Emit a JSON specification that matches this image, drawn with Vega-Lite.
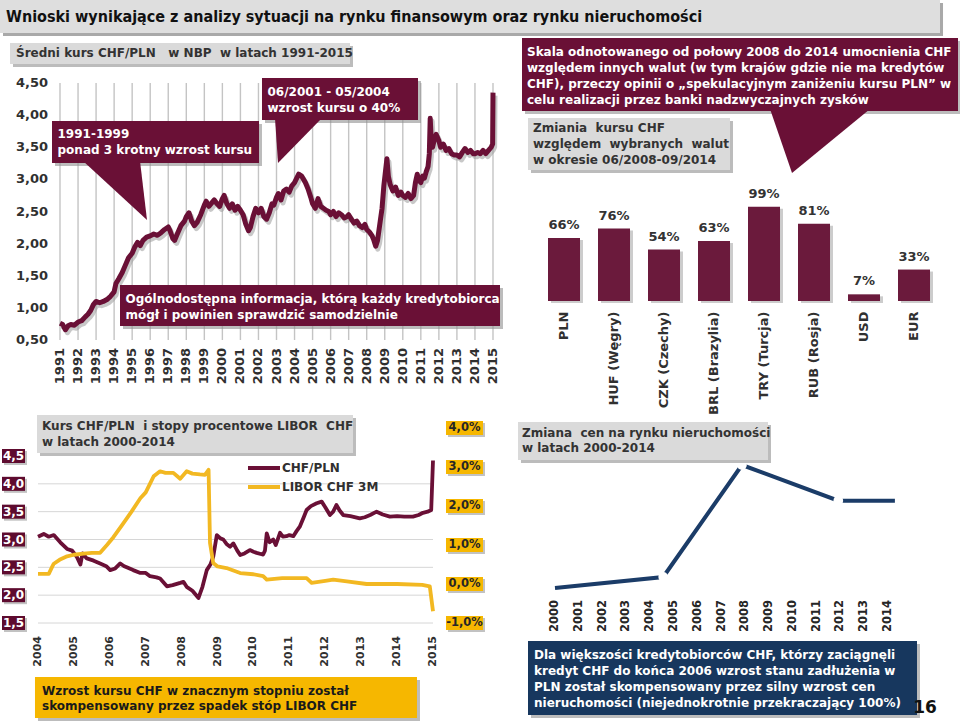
{
  "$schema": "https://vega.github.io/schema/vega-lite/v6.json",
  "width": 960,
  "height": 723,
  "autosize": {"type": "none"},
  "padding": 0,
  "background": "#ffffff",
  "config": {
    "view": {"stroke": null},
    "font": "DejaVu Sans",
    "locale": {"number": {"decimal": ",", "thousands": " ", "grouping": [3], "currency": ["", " zł"], "minus": "-"}}
  },
  "datasets": {
    "title": [{"text": "Wnioski wynikające z analizy sytuacji na rynku finansowym oraz rynku nieruchomości"}],
    "tl_years": [{"year":1991},{"year":1992},{"year":1993},{"year":1994},{"year":1995},{"year":1996},{"year":1997},{"year":1998},{"year":1999},{"year":2000},{"year":2001},{"year":2002},{"year":2003},{"year":2004},{"year":2005},{"year":2006},{"year":2007},{"year":2008},{"year":2009},{"year":2010},{"year":2011},{"year":2012},{"year":2013},{"year":2014},{"year":2015}],
    "tl_ticks": [{"v":0.5},{"v":1.0},{"v":1.5},{"v":2.0},{"v":2.5},{"v":3.0},{"v":3.5},{"v":4.0},{"v":4.5}],
    "tl_chf": [
      {"year":1991.0,"value":0.76},{"year":1991.15,"value":0.74},{"year":1991.3,"value":0.66},{"year":1991.45,"value":0.72},{"year":1991.6,"value":0.74},{"year":1991.8,"value":0.73},
      {"year":1992.0,"value":0.78},{"year":1992.2,"value":0.80},{"year":1992.4,"value":0.86},{"year":1992.55,"value":0.90},{"year":1992.7,"value":0.96},{"year":1992.85,"value":1.05},
      {"year":1993.0,"value":1.10},{"year":1993.2,"value":1.08},{"year":1993.4,"value":1.10},{"year":1993.6,"value":1.13},{"year":1993.8,"value":1.18},
      {"year":1994.0,"value":1.25},{"year":1994.1,"value":1.38},{"year":1994.25,"value":1.45},{"year":1994.45,"value":1.55},{"year":1994.6,"value":1.65},{"year":1994.8,"value":1.78},
      {"year":1995.0,"value":1.85},{"year":1995.15,"value":1.95},{"year":1995.3,"value":2.02},{"year":1995.45,"value":1.97},{"year":1995.6,"value":2.05},{"year":1995.8,"value":2.10},
      {"year":1996.0,"value":2.12},{"year":1996.2,"value":2.15},{"year":1996.4,"value":2.13},{"year":1996.6,"value":2.17},{"year":1996.8,"value":2.22},
      {"year":1997.0,"value":2.26},{"year":1997.1,"value":2.20},{"year":1997.25,"value":2.08},{"year":1997.35,"value":2.05},{"year":1997.5,"value":2.15},{"year":1997.7,"value":2.28},{"year":1997.9,"value":2.35},
      {"year":1998.0,"value":2.42},{"year":1998.15,"value":2.48},{"year":1998.3,"value":2.35},{"year":1998.45,"value":2.28},{"year":1998.6,"value":2.33},{"year":1998.8,"value":2.45},
      {"year":1999.0,"value":2.60},{"year":1999.1,"value":2.66},{"year":1999.25,"value":2.58},{"year":1999.4,"value":2.63},{"year":1999.55,"value":2.68},{"year":1999.7,"value":2.62},{"year":1999.85,"value":2.58},
      {"year":2000.0,"value":2.70},{"year":2000.1,"value":2.75},{"year":2000.25,"value":2.62},{"year":2000.4,"value":2.55},{"year":2000.55,"value":2.62},{"year":2000.7,"value":2.52},{"year":2000.85,"value":2.58},
      {"year":2001.0,"value":2.52},{"year":2001.15,"value":2.45},{"year":2001.3,"value":2.30},{"year":2001.45,"value":2.20},{"year":2001.55,"value":2.25},{"year":2001.7,"value":2.42},{"year":2001.85,"value":2.55},
      {"year":2002.0,"value":2.48},{"year":2002.15,"value":2.55},{"year":2002.3,"value":2.42},{"year":2002.45,"value":2.38},{"year":2002.6,"value":2.48},{"year":2002.75,"value":2.62},{"year":2002.85,"value":2.60},
      {"year":2003.0,"value":2.72},{"year":2003.1,"value":2.78},{"year":2003.25,"value":2.68},{"year":2003.4,"value":2.82},{"year":2003.55,"value":2.85},{"year":2003.7,"value":2.80},{"year":2003.85,"value":2.90},
      {"year":2004.0,"value":2.95},{"year":2004.12,"value":3.02},{"year":2004.23,"value":3.08},{"year":2004.4,"value":3.05},{"year":2004.6,"value":2.95},{"year":2004.75,"value":2.85},{"year":2004.9,"value":2.72},
      {"year":2005.0,"value":2.62},{"year":2005.15,"value":2.55},{"year":2005.3,"value":2.70},{"year":2005.45,"value":2.58},{"year":2005.6,"value":2.55},{"year":2005.75,"value":2.52},{"year":2005.9,"value":2.50},
      {"year":2006.0,"value":2.45},{"year":2006.15,"value":2.50},{"year":2006.3,"value":2.42},{"year":2006.45,"value":2.48},{"year":2006.6,"value":2.45},{"year":2006.75,"value":2.40},{"year":2006.9,"value":2.42},
      {"year":2007.0,"value":2.45},{"year":2007.15,"value":2.38},{"year":2007.3,"value":2.32},{"year":2007.45,"value":2.35},{"year":2007.6,"value":2.28},{"year":2007.75,"value":2.25},{"year":2007.9,"value":2.30},
      {"year":2008.0,"value":2.22},{"year":2008.15,"value":2.18},{"year":2008.3,"value":2.12},{"year":2008.4,"value":2.05},{"year":2008.5,"value":1.96},{"year":2008.6,"value":2.05},{"year":2008.75,"value":2.35},{"year":2008.85,"value":2.55},{"year":2008.95,"value":2.90},
      {"year":2009.05,"value":3.15},{"year":2009.12,"value":3.32},{"year":2009.2,"value":3.05},{"year":2009.3,"value":2.92},{"year":2009.45,"value":2.82},{"year":2009.6,"value":2.88},{"year":2009.75,"value":2.75},{"year":2009.9,"value":2.80},
      {"year":2010.0,"value":2.75},{"year":2010.15,"value":2.72},{"year":2010.3,"value":2.78},{"year":2010.45,"value":2.70},{"year":2010.6,"value":2.75},{"year":2010.7,"value":2.95},{"year":2010.8,"value":3.08},{"year":2010.9,"value":2.98},
      {"year":2011.0,"value":2.95},{"year":2011.1,"value":3.05},{"year":2011.2,"value":3.02},{"year":2011.3,"value":3.12},{"year":2011.4,"value":3.20},{"year":2011.47,"value":3.40},{"year":2011.52,"value":3.95},{"year":2011.58,"value":3.60},{"year":2011.65,"value":3.50},{"year":2011.75,"value":3.62},{"year":2011.85,"value":3.70},
      {"year":2012.0,"value":3.60},{"year":2012.1,"value":3.50},{"year":2012.25,"value":3.55},{"year":2012.4,"value":3.45},{"year":2012.55,"value":3.48},{"year":2012.7,"value":3.40},{"year":2012.85,"value":3.38},
      {"year":2013.0,"value":3.38},{"year":2013.15,"value":3.35},{"year":2013.3,"value":3.42},{"year":2013.45,"value":3.48},{"year":2013.6,"value":3.42},{"year":2013.75,"value":3.45},{"year":2013.9,"value":3.40},
      {"year":2014.0,"value":3.40},{"year":2014.15,"value":3.42},{"year":2014.3,"value":3.40},{"year":2014.45,"value":3.45},{"year":2014.6,"value":3.40},{"year":2014.75,"value":3.45},{"year":2014.9,"value":3.50},{"year":2014.98,"value":3.55},{"year":2015.0,"value":4.35}
    ],
    "tl_heading": [{"x1":1988.229,"x2":2007.074,"y1":5.1226,"y2":4.7957,"text":"Średni kurs CHF/PLN \u00a0 w NBP \u00a0w latach 1991-2015"}],
    "tl_callouts": [
      {"x1":1990.557,"x2":2002.030,"y1":3.9086,"y2":3.2549,"text":"1991-1999\nponad 3 krotny wzrost kursu"},
      {"x1":2002.196,"x2":2010.843,"y1":4.5778,"y2":3.9241,"text":"06/2001 - 05/2004\nwzrost kursu o 40%"},
      {"x1":1994.326,"x2":2015.388,"y1":1.356,"y2":0.718,"text":"Ogólnodostępna informacja, którą każdy kredytobiorca\nmógł i powinien sprawdzić samodzielnie"}
    ],
    "tl_pointers": [
      {"id":"A","x":1992.275,"y":3.286,"y2":3.286},{"id":"A","x":1995.434,"y":3.286,"y2":2.4681},{"id":"A","x":1995.822,"y":2.3677,"y2":2.3677},
      {"id":"B","x":2002.917,"y":3.955,"y2":3.955},{"id":"B","x":2003.083,"y":3.955,"y2":3.255},{"id":"B","x":2005.522,"y":3.955,"y2":3.955}
    ],
    "tr_bars": [
      {"currency":"PLN","change":0.66},{"currency":"HUF (Węgry)","change":0.76},{"currency":"CZK (Czechy)","change":0.54},{"currency":"BRL (Brazylia)","change":0.63},
      {"currency":"TRY (Turcja)","change":0.99},{"currency":"RUB (Rosja)","change":0.81},{"currency":"USD","change":0.07},{"currency":"EUR","change":0.33}
    ],
    "tr_callout": [{"x1":-0.34,"x2":8.38,"y1":2.7597,"y2":1.9937,"text":"Skala odnotowanego od połowy 2008 do 2014 umocnienia CHF\nwzględem innych walut (w tym krajów gdzie nie ma kredytów\nCHF), przeczy opinii o „spekulacyjnym zaniżeniu kursu PLN” w\ncelu realizacji przez banki nadzwyczajnych zysków"}],
    "tr_heading": [{"x1":-0.22,"x2":3.82,"y1":1.9203,"y2":1.3746,"text":"Zmiania \u00a0kursu CHF\nwzględem \u00a0wybranych \u00a0walut\nw okresie 06/2008-09/2014"}],
    "tr_pointer": [{"x":4.62,"y":2.0147,"y2":2.0147},{"x":5.06,"y":2.0147,"y2":1.3431},{"x":6.62,"y":2.0147,"y2":2.0147}],
    "bl_years": [{"year":2004},{"year":2005},{"year":2006},{"year":2007},{"year":2008},{"year":2009},{"year":2010},{"year":2011},{"year":2012},{"year":2013},{"year":2014},{"year":2015}],
    "bl_chf": [
      {"year":2004.0,"value":3.05},{"year":2004.16,"value":3.10},{"year":2004.3,"value":3.05},{"year":2004.44,"value":3.08},{"year":2004.62,"value":2.95},{"year":2004.81,"value":2.83},{"year":2004.95,"value":2.80},
      {"year":2005.08,"value":2.69},{"year":2005.18,"value":2.55},{"year":2005.24,"value":2.75},{"year":2005.36,"value":2.66},{"year":2005.55,"value":2.62},{"year":2005.73,"value":2.57},{"year":2005.9,"value":2.52},
      {"year":2006.01,"value":2.45},{"year":2006.15,"value":2.48},{"year":2006.29,"value":2.57},{"year":2006.4,"value":2.52},{"year":2006.47,"value":2.50},{"year":2006.65,"value":2.45},{"year":2006.85,"value":2.40},
      {"year":2007.0,"value":2.40},{"year":2007.12,"value":2.34},{"year":2007.3,"value":2.32},{"year":2007.4,"value":2.30},{"year":2007.59,"value":2.16},{"year":2007.75,"value":2.18},{"year":2007.96,"value":2.22},
      {"year":2008.05,"value":2.24},{"year":2008.14,"value":2.15},{"year":2008.3,"value":2.08},{"year":2008.47,"value":1.95},{"year":2008.58,"value":2.15},{"year":2008.7,"value":2.45},{"year":2008.8,"value":2.55},{"year":2008.88,"value":2.69},{"year":2008.98,"value":3.08},
      {"year":2009.08,"value":3.02},{"year":2009.16,"value":3.00},{"year":2009.25,"value":2.92},{"year":2009.35,"value":2.87},{"year":2009.44,"value":2.93},{"year":2009.55,"value":2.80},{"year":2009.63,"value":2.72},{"year":2009.75,"value":2.75},{"year":2009.9,"value":2.81},
      {"year":2010.0,"value":2.78},{"year":2010.09,"value":2.76},{"year":2010.2,"value":2.74},{"year":2010.27,"value":2.73},{"year":2010.32,"value":2.80},{"year":2010.37,"value":3.11},{"year":2010.45,"value":2.95},{"year":2010.55,"value":3.00},{"year":2010.62,"value":2.90},{"year":2010.74,"value":3.12},{"year":2010.82,"value":3.05},{"year":2010.92,"value":3.06},
      {"year":2011.0,"value":3.08},{"year":2011.11,"value":3.06},{"year":2011.2,"value":3.15},{"year":2011.29,"value":3.23},{"year":2011.4,"value":3.40},{"year":2011.48,"value":3.53},{"year":2011.6,"value":3.60},{"year":2011.76,"value":3.65},{"year":2011.9,"value":3.68},
      {"year":2012.0,"value":3.58},{"year":2012.13,"value":3.44},{"year":2012.22,"value":3.50},{"year":2012.31,"value":3.62},{"year":2012.4,"value":3.52},{"year":2012.5,"value":3.44},{"year":2012.7,"value":3.42},{"year":2012.96,"value":3.38},
      {"year":2013.1,"value":3.40},{"year":2013.25,"value":3.44},{"year":2013.43,"value":3.50},{"year":2013.6,"value":3.45},{"year":2013.8,"value":3.41},
      {"year":2014.0,"value":3.42},{"year":2014.2,"value":3.41},{"year":2014.44,"value":3.41},{"year":2014.6,"value":3.44},{"year":2014.72,"value":3.48},{"year":2014.85,"value":3.50},{"year":2014.95,"value":3.53},{"year":2015.0,"value":4.42}
    ],
    "bl_libor": [
      {"year":2004.0,"rate":0.0026},{"year":2004.3,"rate":0.0026},{"year":2004.4,"rate":0.0045},{"year":2004.44,"rate":0.0052},{"year":2004.6,"rate":0.0062},{"year":2004.81,"rate":0.0071},
      {"year":2005.0,"rate":0.0075},{"year":2005.27,"rate":0.0078},{"year":2005.5,"rate":0.0080},{"year":2005.73,"rate":0.0080},{"year":2005.92,"rate":0.0100},
      {"year":2006.1,"rate":0.0120},{"year":2006.38,"rate":0.0156},{"year":2006.6,"rate":0.0185},{"year":2006.85,"rate":0.0220},
      {"year":2007.0,"rate":0.0235},{"year":2007.22,"rate":0.0276},{"year":2007.4,"rate":0.0289},{"year":2007.55,"rate":0.0285},{"year":2007.77,"rate":0.0285},{"year":2007.96,"rate":0.0270},
      {"year":2008.14,"rate":0.0289},{"year":2008.3,"rate":0.0283},{"year":2008.51,"rate":0.0281},{"year":2008.65,"rate":0.0280},{"year":2008.75,"rate":0.0293},{"year":2008.79,"rate":0.0105},{"year":2008.88,"rate":0.0054},
      {"year":2009.0,"rate":0.0045},{"year":2009.25,"rate":0.0041},{"year":2009.63,"rate":0.0028},{"year":2010.0,"rate":0.0025},{"year":2010.27,"rate":0.0020},{"year":2010.37,"rate":0.0011},{"year":2010.8,"rate":0.0015},
      {"year":2011.48,"rate":0.0015},{"year":2011.62,"rate":0.0003},{"year":2012.0,"rate":0.0008},{"year":2012.22,"rate":0.0011},{"year":2012.6,"rate":0.0007},{"year":2013.15,"rate":0.0000},
      {"year":2014.0,"rate":0.0000},{"year":2014.7,"rate":-0.0002},{"year":2014.91,"rate":-0.0006},{"year":2015.0,"rate":-0.0070}
    ],
    "bl_chf_ticks": [{"v":1.5},{"v":2.0},{"v":2.5},{"v":3.0},{"v":3.5},{"v":4.0},{"v":4.5}],
    "bl_libor_ticks": [{"v":-0.01},{"v":0.0},{"v":0.01},{"v":0.02},{"v":0.03},{"v":0.04}],
    "bl_legend": [{"series":"CHF/PLN","y":4.2844},{"series":"LIBOR CHF 3M","y":3.9431}],
    "bl_heading": [{"x1":2003.972,"x2":2012.772,"y1":5.2365,"y2":4.5539,"text":"Kurs CHF/PLN \u00a0i stopy procentowe LIBOR \u00a0CHF\nw latach 2000-2014"}],
    "bl_note": [{"x1":2003.916,"x2":2014.554,"y1":0.5299,"y2":-0.2066,"text":"Wzrost kursu CHF w znacznym stopniu został\nskompensowany przez spadek stóp LIBOR CHF"}],
    "br_years": [{"year":2000},{"year":2001},{"year":2002},{"year":2003},{"year":2004},{"year":2005},{"year":2006},{"year":2007},{"year":2008},{"year":2009},{"year":2010},{"year":2011},{"year":2012},{"year":2013},{"year":2014}],
    "br_prices": [{"year":2000,"change":0},{"year":2004.55,"change":10.3},{"year":2007.86,"change":115},{"year":2011.91,"change":81.6},{"year":2014.29,"change":81.6}],
    "br_heading": [{"x1":1998.444,"x2":2008.955,"y1":155.2,"y2":119.67,"text":"Zmiana \u00a0cen na rynku nieruchomości\nw latach 2000-2014"}],
    "br_note": [{"x1":1998.865,"x2":2015.219,"y1":-49.55,"y2":-118.74,"text":"Dla większości kredytobiorców CHF, którzy zaciągnęli\nkredyt CHF do końca 2006 wzrost stanu zadłużenia w\nPLN został skompensowany przez silny wzrost cen\nnieruchomości (niejednokrotnie przekraczający 100%)"}],
    "br_page": [{"page":"16","x":2015.555,"y":-112.2}]
  },
  "layer": [
    {
      "data": {"name": "title"},
      "layer": [
        {"mark": {"type": "rect", "color": "#a9a9a9"},
         "encoding": {
           "x": {"datum": 0.0032, "type": "quantitative", "scale": {"domain": [0, 1], "range": [0, 940]}, "axis": null},
           "x2": {"datum": 1.0032},
           "y": {"datum": -0.09, "type": "quantitative", "scale": {"domain": [0, 1], "range": [33, 0]}, "axis": null},
           "y2": {"datum": 0.91}}},
        {"mark": {"type": "rect", "color": "#dedede"},
         "encoding": {
           "x": {"datum": 0, "type": "quantitative", "scale": {"domain": [0, 1], "range": [0, 940]}, "axis": null},
           "x2": {"datum": 1},
           "y": {"datum": 0, "type": "quantitative", "scale": {"domain": [0, 1], "range": [33, 0]}, "axis": null},
           "y2": {"datum": 1}}},
        {"mark": {"type": "text", "align": "left", "baseline": "middle", "dx": 6, "fontSize": 16, "fontWeight": "bold", "font": "Liberation Sans Narrow, DejaVu Sans Condensed, Arial Narrow, sans-serif", "color": "#111111"},
         "encoding": {
           "x": {"datum": 0, "type": "quantitative", "scale": {"domain": [0, 1], "range": [0, 940]}, "axis": null},
           "y": {"datum": 0.5, "type": "quantitative", "scale": {"domain": [0, 1], "range": [33, 0]}, "axis": null},
           "text": {"field": "text"}}}
      ]
    },
    {
      "layer": [
        {"data": {"name": "tl_years"},
         "mark": {"type": "rule", "color": "#c4c4c4", "strokeWidth": 1.4},
         "encoding": {
           "x": {"field": "year", "type": "quantitative", "scale": {"domain": [1991, 2015], "range": [60, 493], "nice": false, "zero": false}, "axis": null},
           "y": {"datum": 0.5, "type": "quantitative", "scale": {"domain": [0.5, 4.5], "range": [340, 83], "nice": false, "zero": false}, "axis": null},
           "y2": {"datum": 4.5}}},
        {"data": {"name": "tl_years"},
         "mark": {"type": "text", "angle": 270, "align": "right", "baseline": "middle", "dx": -8, "fontSize": 13, "fontWeight": "bold", "color": "#303030"},
         "encoding": {
           "x": {"field": "year", "type": "quantitative", "scale": {"domain": [1991, 2015], "range": [60, 493], "nice": false, "zero": false}, "axis": null},
           "y": {"datum": 0.5, "type": "quantitative", "scale": {"domain": [0.5, 4.5], "range": [340, 83], "nice": false, "zero": false}, "axis": null},
           "text": {"field": "year", "type": "quantitative", "format": "d"}}},
        {"data": {"name": "tl_ticks"},
         "mark": {"type": "text", "align": "right", "baseline": "middle", "dx": -12, "fontSize": 13, "fontWeight": "bold", "color": "#303030"},
         "encoding": {
           "x": {"datum": 1991, "type": "quantitative", "scale": {"domain": [1991, 2015], "range": [60, 493], "nice": false, "zero": false}, "axis": null},
           "y": {"field": "v", "type": "quantitative", "scale": {"domain": [0.5, 4.5], "range": [340, 83], "nice": false, "zero": false}, "axis": null},
           "text": {"field": "v", "type": "quantitative", "format": ".2f"}}},
        {"data": {"name": "tl_chf"},
         "mark": {"type": "line", "color": "#9a9a9a", "opacity": 0.55, "strokeWidth": 5, "strokeJoin": "round", "xOffset": 2, "yOffset": 3},
         "encoding": {
           "x": {"field": "year", "type": "quantitative", "scale": {"domain": [1991, 2015], "range": [60, 493], "nice": false, "zero": false}, "axis": null},
           "y": {"field": "value", "type": "quantitative", "scale": {"domain": [0.5, 4.5], "range": [340, 83], "nice": false, "zero": false}, "axis": null}}},
        {"data": {"name": "tl_chf"},
         "mark": {"type": "line", "color": "#6a1036", "strokeWidth": 5, "strokeJoin": "round"},
         "encoding": {
           "x": {"field": "year", "type": "quantitative", "scale": {"domain": [1991, 2015], "range": [60, 493], "nice": false, "zero": false}, "axis": null},
           "y": {"field": "value", "type": "quantitative", "scale": {"domain": [0.5, 4.5], "range": [340, 83], "nice": false, "zero": false}, "axis": null}}},
        {"data": {"name": "tl_heading"},
         "mark": {"type": "rect", "color": "#8f8f8f", "opacity": 0.6, "xOffset": 3, "x2Offset": 3, "yOffset": 3, "y2Offset": 3},
         "encoding": {
           "x": {"field": "x1", "type": "quantitative", "scale": {"domain": [1991, 2015], "range": [60, 493], "nice": false, "zero": false}, "axis": null},
           "x2": {"field": "x2"},
           "y": {"field": "y1", "type": "quantitative", "scale": {"domain": [0.5, 4.5], "range": [340, 83], "nice": false, "zero": false}, "axis": null},
           "y2": {"field": "y2"}}},
        {"data": {"name": "tl_heading"},
         "mark": {"type": "rect", "color": "#dadada"},
         "encoding": {
           "x": {"field": "x1", "type": "quantitative", "scale": {"domain": [1991, 2015], "range": [60, 493], "nice": false, "zero": false}, "axis": null},
           "x2": {"field": "x2"},
           "y": {"field": "y1", "type": "quantitative", "scale": {"domain": [0.5, 4.5], "range": [340, 83], "nice": false, "zero": false}, "axis": null},
           "y2": {"field": "y2"}}},
        {"data": {"name": "tl_heading"},
         "mark": {"type": "text", "align": "left", "baseline": "top", "dx": 6, "dy": 5, "fontSize": 12, "fontWeight": "bold", "color": "#333333"},
         "encoding": {
           "x": {"field": "x1", "type": "quantitative", "scale": {"domain": [1991, 2015], "range": [60, 493], "nice": false, "zero": false}, "axis": null},
           "y": {"field": "y1", "type": "quantitative", "scale": {"domain": [0.5, 4.5], "range": [340, 83], "nice": false, "zero": false}, "axis": null},
           "text": {"field": "text"}}},
        {"data": {"name": "tl_callouts"},
         "mark": {"type": "rect", "color": "#8f8f8f", "opacity": 0.6, "xOffset": 3, "x2Offset": 3, "yOffset": 3, "y2Offset": 3},
         "encoding": {
           "x": {"field": "x1", "type": "quantitative", "scale": {"domain": [1991, 2015], "range": [60, 493], "nice": false, "zero": false}, "axis": null},
           "x2": {"field": "x2"},
           "y": {"field": "y1", "type": "quantitative", "scale": {"domain": [0.5, 4.5], "range": [340, 83], "nice": false, "zero": false}, "axis": null},
           "y2": {"field": "y2"}}},
        {"data": {"name": "tl_callouts"},
         "mark": {"type": "rect", "color": "#6a1036"},
         "encoding": {
           "x": {"field": "x1", "type": "quantitative", "scale": {"domain": [1991, 2015], "range": [60, 493], "nice": false, "zero": false}, "axis": null},
           "x2": {"field": "x2"},
           "y": {"field": "y1", "type": "quantitative", "scale": {"domain": [0.5, 4.5], "range": [340, 83], "nice": false, "zero": false}, "axis": null},
           "y2": {"field": "y2"}}},
        {"data": {"name": "tl_pointers"},
         "mark": {"type": "area", "color": "#6a1036", "opacity": 1},
         "encoding": {
           "x": {"field": "x", "type": "quantitative", "scale": {"domain": [1991, 2015], "range": [60, 493], "nice": false, "zero": false}, "axis": null},
           "y": {"field": "y", "type": "quantitative", "scale": {"domain": [0.5, 4.5], "range": [340, 83], "nice": false, "zero": false}, "axis": null},
           "y2": {"field": "y2"},
           "detail": {"field": "id"}}},
        {"data": {"name": "tl_callouts"},
         "mark": {"type": "text", "align": "left", "baseline": "top", "dx": 5.5, "dy": 8.5, "lineBreak": "\n", "lineHeight": 16, "fontSize": 12, "fontWeight": "bold", "color": "#ffffff"},
         "encoding": {
           "x": {"field": "x1", "type": "quantitative", "scale": {"domain": [1991, 2015], "range": [60, 493], "nice": false, "zero": false}, "axis": null},
           "y": {"field": "y1", "type": "quantitative", "scale": {"domain": [0.5, 4.5], "range": [340, 83], "nice": false, "zero": false}, "axis": null},
           "text": {"field": "text"}}}
      ]
    },
    {
      "resolve": {"scale": {"x": "independent"}, "axis": {"x": "independent"}},
      "layer": [
        {
          "data": {"name": "tr_bars"},
          "layer": [
            {"mark": {"type": "bar", "color": "#9a9a9a", "opacity": 0.5, "xOffset": 3, "yOffset": 2},
             "encoding": {
               "x": {"field": "currency", "type": "nominal", "sort": null, "scale": {"range": [539, 939], "paddingInner": 0.36, "paddingOuter": 0.18},
                     "axis": {"orient": "bottom", "offset": -422, "labelAngle": 270, "labelAlign": "right", "labelBaseline": "middle", "domain": false, "ticks": false, "tickSize": 0, "grid": false, "labelPadding": 10, "labelFontSize": 13, "labelFontWeight": "bold", "labelColor": "#303030", "labelFont": "DejaVu Sans", "labelOverlap": false, "title": null}},
               "y": {"field": "change", "type": "quantitative", "scale": {"domain": [0, 1], "range": [301, 205.7], "nice": false}, "axis": null}}},
            {"mark": {"type": "bar", "color": "#6b1a3c"},
             "encoding": {
               "x": {"field": "currency", "type": "nominal", "sort": null, "scale": {"range": [539, 939], "paddingInner": 0.36, "paddingOuter": 0.18}},
               "y": {"field": "change", "type": "quantitative", "scale": {"domain": [0, 1], "range": [301, 205.7], "nice": false}, "axis": null}}},
            {"mark": {"type": "text", "baseline": "bottom", "dy": -6, "fontSize": 13, "fontWeight": "bold", "color": "#333333"},
             "encoding": {
               "x": {"field": "currency", "type": "nominal", "sort": null, "scale": {"range": [539, 939], "paddingInner": 0.36, "paddingOuter": 0.18}},
               "y": {"field": "change", "type": "quantitative", "scale": {"domain": [0, 1], "range": [301, 205.7], "nice": false}, "axis": null},
               "text": {"field": "change", "type": "quantitative", "format": ".0%"}}}
          ]
        },
        {
          "layer": [
            {"data": {"name": "tr_callout"},
             "mark": {"type": "rect", "color": "#8f8f8f", "opacity": 0.6, "xOffset": 3, "x2Offset": 3, "yOffset": 3, "y2Offset": 3},
             "encoding": {
               "x": {"field": "x1", "type": "quantitative", "scale": {"domain": [0, 8], "range": [539, 939], "nice": false, "zero": false}, "axis": null},
               "x2": {"field": "x2"},
               "y": {"field": "y1", "type": "quantitative", "scale": {"domain": [0, 1], "range": [301, 205.7], "nice": false}, "axis": null},
               "y2": {"field": "y2"}}},
            {"data": {"name": "tr_callout"},
             "mark": {"type": "rect", "color": "#6a1036"},
             "encoding": {
               "x": {"field": "x1", "type": "quantitative", "scale": {"domain": [0, 8], "range": [539, 939], "nice": false, "zero": false}, "axis": null},
               "x2": {"field": "x2"},
               "y": {"field": "y1", "type": "quantitative", "scale": {"domain": [0, 1], "range": [301, 205.7], "nice": false}, "axis": null},
               "y2": {"field": "y2"}}},
            {"data": {"name": "tr_pointer"},
             "mark": {"type": "area", "color": "#6a1036", "opacity": 1},
             "encoding": {
               "x": {"field": "x", "type": "quantitative", "scale": {"domain": [0, 8], "range": [539, 939], "nice": false, "zero": false}, "axis": null},
               "y": {"field": "y", "type": "quantitative", "scale": {"domain": [0, 1], "range": [301, 205.7], "nice": false}, "axis": null},
               "y2": {"field": "y2"}}},
            {"data": {"name": "tr_callout"},
             "mark": {"type": "text", "align": "left", "baseline": "top", "dx": 5, "dy": 8.5, "lineBreak": "\n", "lineHeight": 16, "fontSize": 12, "fontWeight": "bold", "color": "#ffffff"},
             "encoding": {
               "x": {"field": "x1", "type": "quantitative", "scale": {"domain": [0, 8], "range": [539, 939], "nice": false, "zero": false}, "axis": null},
               "y": {"field": "y1", "type": "quantitative", "scale": {"domain": [0, 1], "range": [301, 205.7], "nice": false}, "axis": null},
               "text": {"field": "text"}}},
            {"data": {"name": "tr_heading"},
             "mark": {"type": "rect", "color": "#8f8f8f", "opacity": 0.6, "xOffset": 3, "x2Offset": 3, "yOffset": 3, "y2Offset": 3},
             "encoding": {
               "x": {"field": "x1", "type": "quantitative", "scale": {"domain": [0, 8], "range": [539, 939], "nice": false, "zero": false}, "axis": null},
               "x2": {"field": "x2"},
               "y": {"field": "y1", "type": "quantitative", "scale": {"domain": [0, 1], "range": [301, 205.7], "nice": false}, "axis": null},
               "y2": {"field": "y2"}}},
            {"data": {"name": "tr_heading"},
             "mark": {"type": "rect", "color": "#dadada"},
             "encoding": {
               "x": {"field": "x1", "type": "quantitative", "scale": {"domain": [0, 8], "range": [539, 939], "nice": false, "zero": false}, "axis": null},
               "x2": {"field": "x2"},
               "y": {"field": "y1", "type": "quantitative", "scale": {"domain": [0, 1], "range": [301, 205.7], "nice": false}, "axis": null},
               "y2": {"field": "y2"}}},
            {"data": {"name": "tr_heading"},
             "mark": {"type": "text", "align": "left", "baseline": "top", "dx": 5, "dy": 5, "lineBreak": "\n", "lineHeight": 16, "fontSize": 12, "fontWeight": "bold", "color": "#333333"},
             "encoding": {
               "x": {"field": "x1", "type": "quantitative", "scale": {"domain": [0, 8], "range": [539, 939], "nice": false, "zero": false}, "axis": null},
               "y": {"field": "y1", "type": "quantitative", "scale": {"domain": [0, 1], "range": [301, 205.7], "nice": false}, "axis": null},
               "text": {"field": "text"}}}
          ]
        }
      ]
    },
    {
      "resolve": {"scale": {"y": "independent"}, "axis": {"y": "independent"}},
      "layer": [
        {
          "layer": [
            {"data": {"name": "bl_chf_ticks"},
             "transform": [{"filter": "datum.v < 4.5"}],
             "mark": {"type": "rule", "color": "#d6d6d6", "strokeWidth": 1},
             "encoding": {
               "x": {"datum": 2004, "type": "quantitative", "scale": {"domain": [2004, 2015], "range": [38, 433], "nice": false, "zero": false}, "axis": null},
               "x2": {"datum": 2015},
               "y": {"field": "v", "type": "quantitative", "scale": {"domain": [1.5, 4.5], "range": [623, 456], "nice": false, "zero": false}, "axis": null}}},
            {"data": {"name": "bl_years"},
             "mark": {"type": "text", "angle": 270, "align": "right", "baseline": "middle", "dx": -13, "fontSize": 11, "fontWeight": "bold", "color": "#303030"},
             "encoding": {
               "x": {"field": "year", "type": "quantitative", "scale": {"domain": [2004, 2015], "range": [38, 433], "nice": false, "zero": false}, "axis": null},
               "y": {"datum": 1.5, "type": "quantitative", "scale": {"domain": [1.5, 4.5], "range": [623, 456], "nice": false, "zero": false}, "axis": null},
               "text": {"field": "year", "type": "quantitative", "format": "d"}}},
            {"data": {"name": "bl_chf"},
             "mark": {"type": "line", "color": "#6a1036", "strokeWidth": 3.8, "strokeJoin": "round"},
             "encoding": {
               "x": {"field": "year", "type": "quantitative", "scale": {"domain": [2004, 2015], "range": [38, 433], "nice": false, "zero": false}, "axis": null},
               "y": {"field": "value", "type": "quantitative", "scale": {"domain": [1.5, 4.5], "range": [623, 456], "nice": false, "zero": false}, "axis": null}}},
            {"data": {"name": "bl_chf_ticks"},
             "mark": {"type": "point", "filled": true, "opacity": 0.55, "shape": "M-1,-0.61H1V0.61H-1Z", "size": 529, "color": "#8f8f8f", "xOffset": 2, "yOffset": 2},
             "encoding": {
               "x": {"datum": 2003.318, "type": "quantitative", "scale": {"domain": [2004, 2015], "range": [38, 433], "nice": false, "zero": false}, "axis": null},
               "y": {"field": "v", "type": "quantitative", "scale": {"domain": [1.5, 4.5], "range": [623, 456], "nice": false, "zero": false}, "axis": null}}},
            {"data": {"name": "bl_chf_ticks"},
             "mark": {"type": "point", "filled": true, "opacity": 1, "shape": "M-1,-0.61H1V0.61H-1Z", "size": 529, "color": "#5e0b2f"},
             "encoding": {
               "x": {"datum": 2003.318, "type": "quantitative", "scale": {"domain": [2004, 2015], "range": [38, 433], "nice": false, "zero": false}, "axis": null},
               "y": {"field": "v", "type": "quantitative", "scale": {"domain": [1.5, 4.5], "range": [623, 456], "nice": false, "zero": false}, "axis": null}}},
            {"data": {"name": "bl_chf_ticks"},
             "mark": {"type": "text", "align": "center", "baseline": "middle", "fontSize": 12, "fontWeight": "bold", "color": "#ffffff"},
             "encoding": {
               "x": {"datum": 2003.318, "type": "quantitative", "scale": {"domain": [2004, 2015], "range": [38, 433], "nice": false, "zero": false}, "axis": null},
               "y": {"field": "v", "type": "quantitative", "scale": {"domain": [1.5, 4.5], "range": [623, 456], "nice": false, "zero": false}, "axis": null},
               "text": {"field": "v", "type": "quantitative", "format": ".1f"}}},
            {"data": {"name": "bl_legend"},
             "mark": {"type": "rule", "strokeWidth": 3.8},
             "encoding": {
               "x": {"datum": 2009.848, "type": "quantitative", "scale": {"domain": [2004, 2015], "range": [38, 433], "nice": false, "zero": false}, "axis": null},
               "x2": {"datum": 2010.739},
               "y": {"field": "y", "type": "quantitative", "scale": {"domain": [1.5, 4.5], "range": [623, 456], "nice": false, "zero": false}, "axis": null},
               "color": {"field": "series", "type": "nominal", "scale": {"domain": ["CHF/PLN", "LIBOR CHF 3M"], "range": ["#6a1036", "#f2b822"]}, "legend": null}}},
            {"data": {"name": "bl_legend"},
             "mark": {"type": "text", "align": "left", "baseline": "middle", "dx": 2, "fontSize": 12, "fontWeight": "bold", "color": "#303030"},
             "encoding": {
               "x": {"datum": 2010.739, "type": "quantitative", "scale": {"domain": [2004, 2015], "range": [38, 433], "nice": false, "zero": false}, "axis": null},
               "y": {"field": "y", "type": "quantitative", "scale": {"domain": [1.5, 4.5], "range": [623, 456], "nice": false, "zero": false}, "axis": null},
               "text": {"field": "series"}}},
            {"data": {"name": "bl_heading"},
             "mark": {"type": "rect", "color": "#8f8f8f", "opacity": 0.6, "xOffset": 3, "x2Offset": 3, "yOffset": 3, "y2Offset": 3},
             "encoding": {
               "x": {"field": "x1", "type": "quantitative", "scale": {"domain": [2004, 2015], "range": [38, 433], "nice": false, "zero": false}, "axis": null},
               "x2": {"field": "x2"},
               "y": {"field": "y1", "type": "quantitative", "scale": {"domain": [1.5, 4.5], "range": [623, 456], "nice": false, "zero": false}, "axis": null},
               "y2": {"field": "y2"}}},
            {"data": {"name": "bl_heading"},
             "mark": {"type": "rect", "color": "#dadada"},
             "encoding": {
               "x": {"field": "x1", "type": "quantitative", "scale": {"domain": [2004, 2015], "range": [38, 433], "nice": false, "zero": false}, "axis": null},
               "x2": {"field": "x2"},
               "y": {"field": "y1", "type": "quantitative", "scale": {"domain": [1.5, 4.5], "range": [623, 456], "nice": false, "zero": false}, "axis": null},
               "y2": {"field": "y2"}}},
            {"data": {"name": "bl_heading"},
             "mark": {"type": "text", "align": "left", "baseline": "top", "dx": 5, "dy": 5.5, "lineBreak": "\n", "lineHeight": 16.5, "fontSize": 12, "fontWeight": "bold", "color": "#333333"},
             "encoding": {
               "x": {"field": "x1", "type": "quantitative", "scale": {"domain": [2004, 2015], "range": [38, 433], "nice": false, "zero": false}, "axis": null},
               "y": {"field": "y1", "type": "quantitative", "scale": {"domain": [1.5, 4.5], "range": [623, 456], "nice": false, "zero": false}, "axis": null},
               "text": {"field": "text"}}},
            {"data": {"name": "bl_note"},
             "mark": {"type": "rect", "color": "#8f8f8f", "opacity": 0.6, "xOffset": 3, "x2Offset": 3, "yOffset": 3, "y2Offset": 3},
             "encoding": {
               "x": {"field": "x1", "type": "quantitative", "scale": {"domain": [2004, 2015], "range": [38, 433], "nice": false, "zero": false}, "axis": null},
               "x2": {"field": "x2"},
               "y": {"field": "y1", "type": "quantitative", "scale": {"domain": [1.5, 4.5], "range": [623, 456], "nice": false, "zero": false}, "axis": null},
               "y2": {"field": "y2"}}},
            {"data": {"name": "bl_note"},
             "mark": {"type": "rect", "color": "#f6b700"},
             "encoding": {
               "x": {"field": "x1", "type": "quantitative", "scale": {"domain": [2004, 2015], "range": [38, 433], "nice": false, "zero": false}, "axis": null},
               "x2": {"field": "x2"},
               "y": {"field": "y1", "type": "quantitative", "scale": {"domain": [1.5, 4.5], "range": [623, 456], "nice": false, "zero": false}, "axis": null},
               "y2": {"field": "y2"}}},
            {"data": {"name": "bl_note"},
             "mark": {"type": "text", "align": "left", "baseline": "top", "dx": 7, "dy": 9, "lineBreak": "\n", "lineHeight": 15, "fontSize": 12, "fontWeight": "bold", "color": "#1a1a1a"},
             "encoding": {
               "x": {"field": "x1", "type": "quantitative", "scale": {"domain": [2004, 2015], "range": [38, 433], "nice": false, "zero": false}, "axis": null},
               "y": {"field": "y1", "type": "quantitative", "scale": {"domain": [1.5, 4.5], "range": [623, 456], "nice": false, "zero": false}, "axis": null},
               "text": {"field": "text"}}}
          ]
        },
        {
          "layer": [
            {"data": {"name": "bl_libor"},
             "mark": {"type": "line", "color": "#f2b822", "strokeWidth": 3.8, "strokeJoin": "round"},
             "encoding": {
               "x": {"field": "year", "type": "quantitative", "scale": {"domain": [2004, 2015], "range": [38, 433], "nice": false, "zero": false}, "axis": null},
               "y": {"field": "rate", "type": "quantitative", "scale": {"domain": [-0.01, 0.04], "range": [623, 428], "nice": false, "zero": false}, "axis": null}}},
            {"data": {"name": "bl_libor_ticks"},
             "mark": {"type": "point", "filled": true, "opacity": 0.55, "shape": "M-1,-0.378H1V0.378H-1Z", "size": 1369, "color": "#8f8f8f", "xOffset": 2, "yOffset": 2},
             "encoding": {
               "x": {"datum": 2015.877, "type": "quantitative", "scale": {"domain": [2004, 2015], "range": [38, 433], "nice": false, "zero": false}, "axis": null},
               "y": {"field": "v", "type": "quantitative", "scale": {"domain": [-0.01, 0.04], "range": [623, 428], "nice": false, "zero": false}, "axis": null}}},
            {"data": {"name": "bl_libor_ticks"},
             "mark": {"type": "point", "filled": true, "opacity": 1, "shape": "M-1,-0.378H1V0.378H-1Z", "size": 1369, "color": "#f6b700"},
             "encoding": {
               "x": {"datum": 2015.877, "type": "quantitative", "scale": {"domain": [2004, 2015], "range": [38, 433], "nice": false, "zero": false}, "axis": null},
               "y": {"field": "v", "type": "quantitative", "scale": {"domain": [-0.01, 0.04], "range": [623, 428], "nice": false, "zero": false}, "axis": null}}},
            {"data": {"name": "bl_libor_ticks"},
             "mark": {"type": "text", "align": "center", "baseline": "middle", "fontSize": 11.5, "fontWeight": "bold", "color": "#262626"},
             "encoding": {
               "x": {"datum": 2015.877, "type": "quantitative", "scale": {"domain": [2004, 2015], "range": [38, 433], "nice": false, "zero": false}, "axis": null},
               "y": {"field": "v", "type": "quantitative", "scale": {"domain": [-0.01, 0.04], "range": [623, 428], "nice": false, "zero": false}, "axis": null},
               "text": {"field": "v", "type": "quantitative", "format": ".1%"}}}
          ]
        }
      ]
    },
    {
      "layer": [
        {"data": {"name": "br_years"},
         "mark": {"type": "text", "angle": 270, "align": "right", "baseline": "middle", "dx": -12, "fontSize": 11.5, "fontWeight": "bold", "color": "#262626"},
         "encoding": {
           "x": {"field": "year", "type": "quantitative", "scale": {"domain": [2000, 2014], "range": [555, 888], "nice": false, "zero": false}, "axis": null},
           "y": {"datum": 0, "type": "quantitative", "scale": {"domain": [0, 115], "range": [588, 465], "nice": false, "zero": false}, "axis": null},
           "text": {"field": "year", "type": "quantitative", "format": "d"}}},
        {"data": {"name": "br_prices"},
         "mark": {"type": "line", "color": "#1b3c68", "strokeWidth": 4},
         "encoding": {
           "x": {"field": "year", "type": "quantitative", "scale": {"domain": [2000, 2014], "range": [555, 888], "nice": false, "zero": false}, "axis": null},
           "y": {"field": "change", "type": "quantitative", "scale": {"domain": [0, 115], "range": [588, 465], "nice": false, "zero": false}, "axis": null}}},
        {"data": {"name": "br_prices"},
         "transform": [{"filter": "datum.year > 2001 && datum.year < 2013"}],
         "mark": {"type": "point", "filled": true, "opacity": 1, "color": "#ffffff", "size": 95},
         "encoding": {
           "x": {"field": "year", "type": "quantitative", "scale": {"domain": [2000, 2014], "range": [555, 888], "nice": false, "zero": false}, "axis": null},
           "y": {"field": "change", "type": "quantitative", "scale": {"domain": [0, 115], "range": [588, 465], "nice": false, "zero": false}, "axis": null}}},
        {"data": {"name": "br_heading"},
         "mark": {"type": "rect", "color": "#8f8f8f", "opacity": 0.6, "xOffset": 3, "x2Offset": 3, "yOffset": 3, "y2Offset": 3},
         "encoding": {
           "x": {"field": "x1", "type": "quantitative", "scale": {"domain": [2000, 2014], "range": [555, 888], "nice": false, "zero": false}, "axis": null},
           "x2": {"field": "x2"},
           "y": {"field": "y1", "type": "quantitative", "scale": {"domain": [0, 115], "range": [588, 465], "nice": false, "zero": false}, "axis": null},
           "y2": {"field": "y2"}}},
        {"data": {"name": "br_heading"},
         "mark": {"type": "rect", "color": "#dadada"},
         "encoding": {
           "x": {"field": "x1", "type": "quantitative", "scale": {"domain": [2000, 2014], "range": [555, 888], "nice": false, "zero": false}, "axis": null},
           "x2": {"field": "x2"},
           "y": {"field": "y1", "type": "quantitative", "scale": {"domain": [0, 115], "range": [588, 465], "nice": false, "zero": false}, "axis": null},
           "y2": {"field": "y2"}}},
        {"data": {"name": "br_heading"},
         "mark": {"type": "text", "align": "left", "baseline": "top", "dx": 4, "dy": 5.5, "lineBreak": "\n", "lineHeight": 15.6, "fontSize": 12, "fontWeight": "bold", "color": "#333333"},
         "encoding": {
           "x": {"field": "x1", "type": "quantitative", "scale": {"domain": [2000, 2014], "range": [555, 888], "nice": false, "zero": false}, "axis": null},
           "y": {"field": "y1", "type": "quantitative", "scale": {"domain": [0, 115], "range": [588, 465], "nice": false, "zero": false}, "axis": null},
           "text": {"field": "text"}}},
        {"data": {"name": "br_note"},
         "mark": {"type": "rect", "color": "#8f8f8f", "opacity": 0.6, "xOffset": 3, "x2Offset": 3, "yOffset": 3, "y2Offset": 3},
         "encoding": {
           "x": {"field": "x1", "type": "quantitative", "scale": {"domain": [2000, 2014], "range": [555, 888], "nice": false, "zero": false}, "axis": null},
           "x2": {"field": "x2"},
           "y": {"field": "y1", "type": "quantitative", "scale": {"domain": [0, 115], "range": [588, 465], "nice": false, "zero": false}, "axis": null},
           "y2": {"field": "y2"}}},
        {"data": {"name": "br_note"},
         "mark": {"type": "rect", "color": "#17375e"},
         "encoding": {
           "x": {"field": "x1", "type": "quantitative", "scale": {"domain": [2000, 2014], "range": [555, 888], "nice": false, "zero": false}, "axis": null},
           "x2": {"field": "x2"},
           "y": {"field": "y1", "type": "quantitative", "scale": {"domain": [0, 115], "range": [588, 465], "nice": false, "zero": false}, "axis": null},
           "y2": {"field": "y2"}}},
        {"data": {"name": "br_note"},
         "mark": {"type": "text", "align": "left", "baseline": "top", "dx": 6, "dy": 9.5, "lineBreak": "\n", "lineHeight": 15.9, "fontSize": 12, "fontWeight": "bold", "color": "#ffffff"},
         "encoding": {
           "x": {"field": "x1", "type": "quantitative", "scale": {"domain": [2000, 2014], "range": [555, 888], "nice": false, "zero": false}, "axis": null},
           "y": {"field": "y1", "type": "quantitative", "scale": {"domain": [0, 115], "range": [588, 465], "nice": false, "zero": false}, "axis": null},
           "text": {"field": "text"}}},
        {"data": {"name": "br_page"},
         "mark": {"type": "text", "align": "center", "baseline": "middle", "fontSize": 17, "fontWeight": "bold", "color": "#111111"},
         "encoding": {
           "x": {"field": "x", "type": "quantitative", "scale": {"domain": [2000, 2014], "range": [555, 888], "nice": false, "zero": false}, "axis": null},
           "y": {"field": "y", "type": "quantitative", "scale": {"domain": [0, 115], "range": [588, 465], "nice": false, "zero": false}, "axis": null},
           "text": {"field": "page"}}}
      ]
    }
  ],
  "resolve": {"scale": {"x": "independent", "y": "independent"}, "axis": {"x": "independent", "y": "independent"}}
}
